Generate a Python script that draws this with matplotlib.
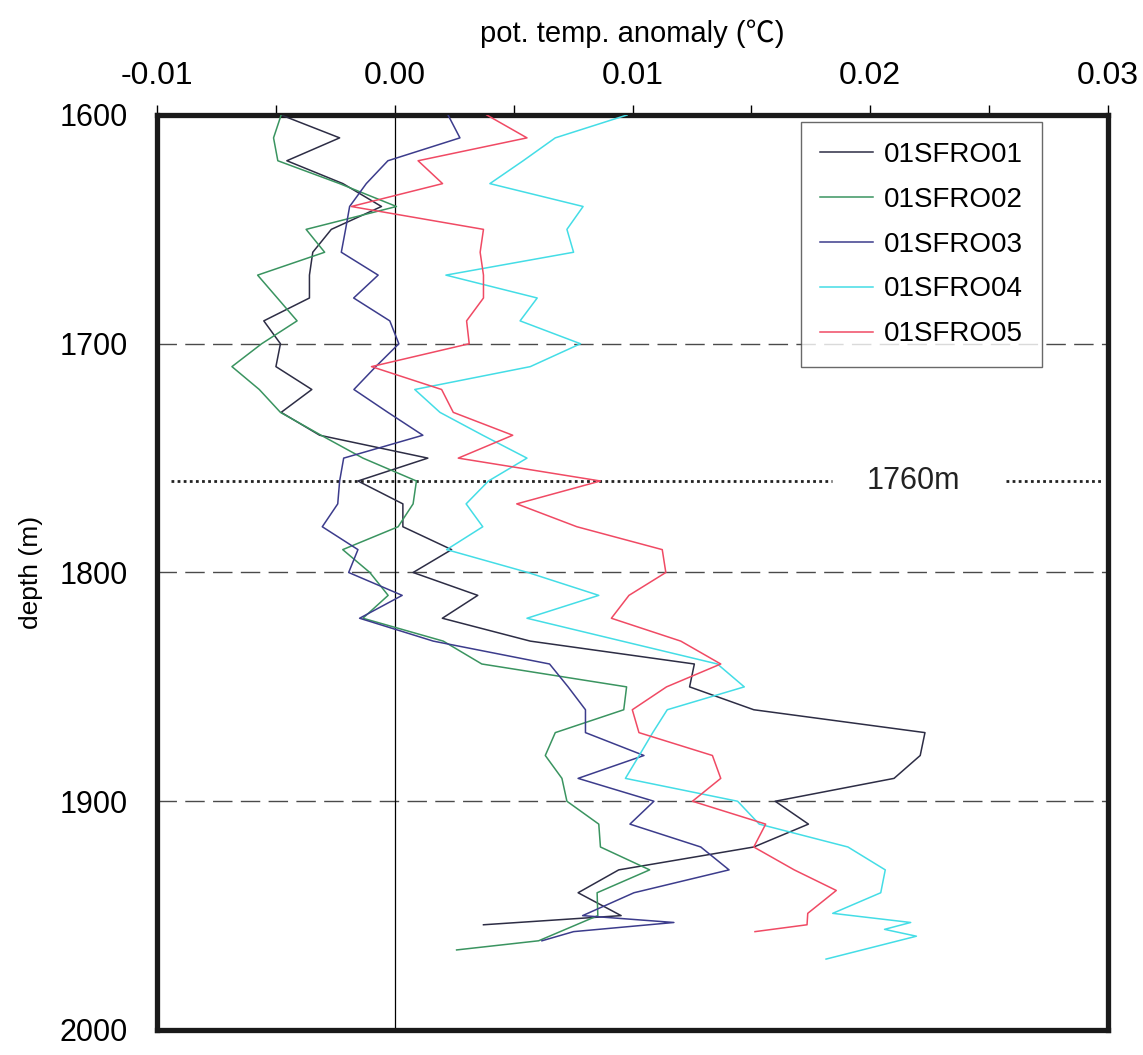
import matplotlib
matplotlib.use("Agg")
import matplotlib.pyplot as plt
from matplotlib import font_manager
from matplotlib.ticker import MultipleLocator, FuncFormatter

# depth (m) and pot. temp. anomaly (x 0.001 degC) for each cast
depth_01 = [1600, 1610, 1620, 1630, 1640, 1650, 1660, 1670, 1680, 1690,
            1700, 1710, 1720, 1730, 1740, 1750, 1760, 1770, 1780, 1790,
            1800, 1810, 1820, 1830, 1840, 1850, 1860, 1870, 1880, 1890,
            1900, 1910, 1920, 1930, 1940, 1950, 1954]
temp_01 = [-4.78, -2.32, -4.54, -2.18, -0.56, -2.67, -3.45, -3.59, -3.59, -5.51,
           -4.81, -5.0, -3.49, -4.78, -3.16, 1.39, -1.55, 0.34, 0.34, 2.39,
           0.77, 3.49, 2.0, 5.7, 12.6, 12.4, 15.1, 22.3, 22.1, 21.0,
           16.0, 17.4, 15.1, 9.42, 7.71, 9.52, 3.73]

depth_02 = [1600, 1610, 1620, 1630, 1640, 1650, 1660, 1670, 1680, 1690,
            1700, 1710, 1720, 1730, 1740, 1750, 1760, 1770, 1780, 1790,
            1800, 1810, 1820, 1830, 1840, 1850, 1860, 1870, 1880, 1890,
            1900, 1910, 1920, 1930, 1940, 1950, 1961, 1965]
temp_02 = [-4.78, -5.1, -4.92, -2.32, 0.07, -3.73, -2.95, -5.77, -4.94, -4.11,
           -5.6, -6.85, -5.7, -4.81, -3.1, -1.34, 0.91, 0.77, 0.14, -2.19,
           -1.05, -0.28, -1.34, 2.04, 3.66, 9.75, 9.63, 6.75, 6.33, 7.03,
           7.24, 8.58, 8.65, 10.72, 8.51, 8.54, 6.05, 2.6]

depth_03 = [1600, 1610, 1620, 1630, 1640, 1650, 1660, 1670, 1680, 1690,
            1700, 1710, 1720, 1730, 1740, 1750, 1760, 1770, 1780, 1790,
            1800, 1810, 1820, 1830, 1840, 1850, 1860, 1870, 1880, 1890,
            1900, 1910, 1920, 1930, 1940, 1950, 1953, 1957, 1961]
temp_03 = [2.24, 2.74, -0.29, -1.2, -1.9, -2.07, -2.25, -0.7, -1.73, -0.21,
           0.17, -0.8, -1.72, -0.29, 1.18, -2.15, -2.32, -2.4, -3.05, -1.55,
           -1.94, 0.31, -1.48, 1.62, 6.51, 7.29, 8.02, 8.02, 10.48, 7.71,
           10.9, 9.89, 12.87, 14.06, 10.06, 7.9, 11.74, 7.52, 6.19]

depth_04 = [1600, 1610, 1620, 1630, 1640, 1650, 1660, 1670, 1680, 1690,
            1700, 1710, 1720, 1730, 1740, 1750, 1760, 1770, 1780, 1790,
            1800, 1810, 1820, 1830, 1840, 1850, 1860, 1870, 1880, 1890,
            1900, 1910, 1920, 1930, 1940, 1949, 1953, 1956, 1959, 1969]
temp_04 = [9.77, 6.75, 5.4, 4.0, 7.92, 7.24, 7.52, 2.15, 5.99, 5.27,
           7.81, 5.7, 0.84, 1.9, 3.7, 5.56, 3.94, 3.0, 3.7, 2.18,
           5.6, 8.58, 5.56, 9.56, 13.57, 14.7, 11.46, 10.85, 10.28, 9.7,
           14.42, 15.33, 19.06, 20.63, 20.44, 18.42, 21.7, 20.6, 21.94, 18.14]

depth_05 = [1600, 1610, 1620, 1630, 1640, 1650, 1660, 1670, 1680, 1690,
            1700, 1710, 1720, 1730, 1740, 1750, 1760, 1770, 1780, 1790,
            1800, 1810, 1820, 1830, 1840, 1850, 1860, 1870, 1880, 1890,
            1900, 1910, 1920, 1930, 1939, 1949, 1954, 1957]
temp_05 = [3.87, 5.56, 0.98, 2.01, -1.83, 3.73, 3.59, 3.73, 3.73, 3.02,
           3.13, -0.98, 1.97, 2.46, 4.96, 2.67, 8.65, 5.13, 7.66, 11.25,
           11.4, 9.85, 9.11, 12.03, 13.71, 11.43, 9.99, 10.27, 13.36, 13.71,
           12.52, 15.6, 15.1, 16.8, 18.57, 17.37, 17.34, 15.15]

names = ["01SFRO01", "01SFRO02", "01SFRO03", "01SFRO04", "01SFRO05"]
colors = ["#2d2d45", "#3a9460", "#3c3c8c", "#44dde6", "#f04a64"]

ref_depths = [1700, 1800, 1900]
mark_depth = 1760


def pick_font(options):
    installed = {f.name for f in font_manager.fontManager.ttflist}
    for name in options:
        if name in installed:
            return name
    return "DejaVu Sans"


narrow = pick_font(["Liberation Sans Narrow", "Liberation Sans", "Arial"])
regular = pick_font(["Liberation Sans", "Arial", "DejaVu Sans"])

fig = plt.figure(figsize=(11.43, 10.55), dpi=100)
ax = fig.add_axes([0.1374, 0.0237, 0.8320, 0.8673])

series = [(depth_01, temp_01), (depth_02, temp_02), (depth_03, temp_03),
          (depth_04, temp_04), (depth_05, temp_05)]
for (d, t), name, c in zip(series, names, colors):
    ax.plot([v / 1000.0 for v in t], d, color=c, lw=1.1, label=name, zorder=3)

# reference lines
for d in ref_depths:
    ax.axhline(d, color="#4a4a4a", lw=1.0, ls=(0, (14, 6)), zorder=2)
ax.axvline(0.0, color="black", lw=0.9, zorder=2)
ax.plot([-0.0094, 0.0184], [mark_depth, mark_depth], color="#222222", lw=2.0,
        ls=(0, (1, 1.2)), zorder=2)
ax.plot([0.0257, 0.0297], [mark_depth, mark_depth], color="#222222", lw=2.0,
        ls=(0, (1, 1.2)), zorder=2)
ax.text(0.0218, mark_depth, "1760m", fontsize=22, family=regular,
        ha="center", va="center", color="#222222")

ax.set_xlim(-0.01, 0.03)
ax.set_ylim(2000, 1600)

ax.xaxis.tick_top()
ax.xaxis.set_label_position("top")
ax.xaxis.set_major_locator(MultipleLocator(0.01))
ax.xaxis.set_minor_locator(MultipleLocator(0.005))
ax.xaxis.set_major_formatter(FuncFormatter(lambda v, p: "%.2f" % v if abs(v) > 1e-9 else "0.00"))
ax.yaxis.set_major_locator(MultipleLocator(100))

ax.tick_params(axis="x", which="both", direction="out", length=7, width=1,
               labelsize=23, pad=10)
ax.tick_params(axis="y", which="both", length=0, labelsize=22, pad=21)
for lab in ax.get_xticklabels() + ax.get_yticklabels():
    lab.set_family(narrow)

ax.set_xlabel("pot. temp. anomaly (\u2103)", fontsize=21,
              family=[narrow, "Noto Sans CJK JP", "DejaVu Sans"], labelpad=14)
ax.set_ylabel("depth (m)", fontsize=19, family=narrow, labelpad=12)

for sp in ax.spines.values():
    sp.set_linewidth(3.8)
    sp.set_color("#1a1a1a")

leg = ax.legend(loc="upper right", bbox_to_anchor=(0.931, 0.992),
                prop={"family": regular, "size": 20}, frameon=True, fancybox=False,
                handlelength=1.9, handletextpad=0.4, labelspacing=0.68,
                borderpad=0.7, borderaxespad=0)
leg.get_frame().set_edgecolor("#444444")
leg.get_frame().set_linewidth(1.0)
leg.set_zorder(5)

fig.savefig("out.png", dpi=100)
